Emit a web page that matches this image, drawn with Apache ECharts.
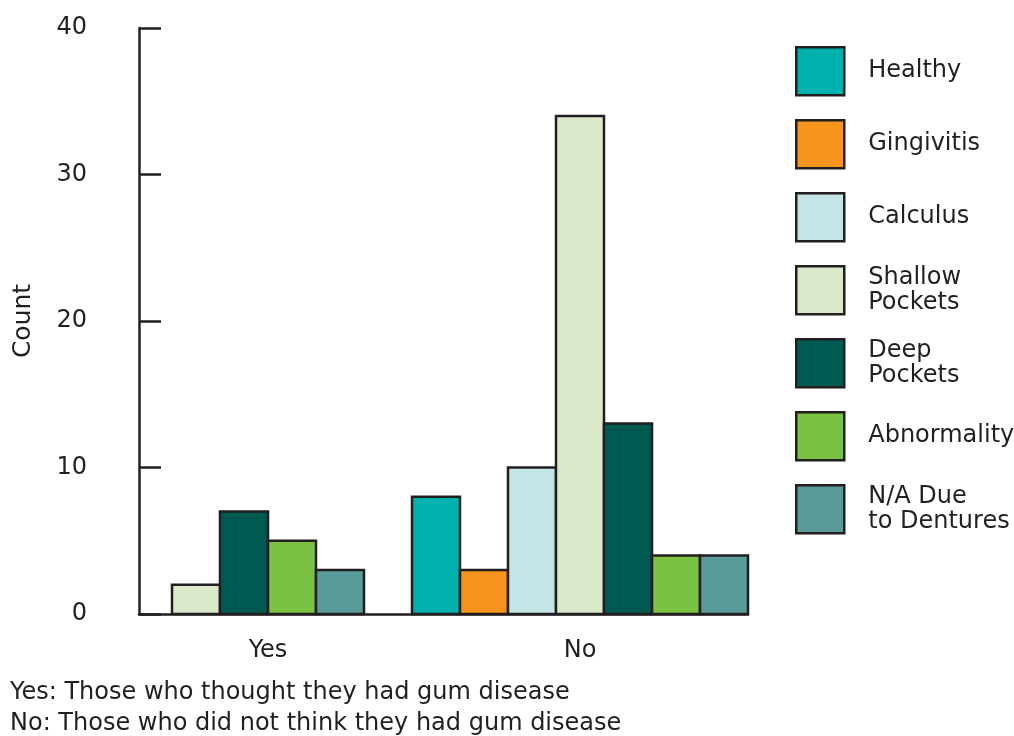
<!DOCTYPE html>
<html>
<head>
<meta charset="utf-8">
<script src="https://cdn.jsdelivr.net/npm/echarts@6/dist/echarts.min.js"></script>
<style>
html,body{margin:0;padding:0;background:#fff;}
#chart{width:1014px;height:736px;}
</style>
</head>
<body>
<div id="chart"></div>
<script>
const categories = ['Yes', 'No'];
const seriesNames = ['Healthy', 'Gingivitis', 'Calculus', 'Shallow\nPockets', 'Deep\nPockets', 'Abnormality', 'N/A Due\nto Dentures'];
const healthy = [0, 8];
const gingivitis = [0, 3];
const calculus = [0, 10];
const shallowPockets = [2, 34];
const deepPockets = [7, 13];
const abnormality = [5, 4];
const naDentures = [3, 4];
const yTicks = [0, 10, 20, 30, 40];
const footnotes = ['Yes: Those who thought they had gum disease', 'No: Those who did not think they had gum disease'];

const seriesValues = [healthy, gingivitis, calculus, shallowPockets, deepPockets, abnormality, naDentures];
const colors = ['#00b0ad', '#f7941e', '#c4e4e5', '#dbe9cb', '#005a52', '#7bc143', '#5a9b9a'];
const FONT = 'DejaVu Sans';
const TXT = '#231f20';
const BAR_FRAC = 48 / 312;

// nonzero series per category (bars with zero are omitted and the rest centred)
const nonzero = categories.map((c, ci) => seriesValues.map((v, si) => v[ci] ? si : -1).filter(i => i >= 0));

function renderItem(params, api) {
  const cat = api.value(0);
  const val = api.value(1);
  if (!val) return null;
  const s = params.seriesIndex;
  const list = nonzero[cat];
  const k = list.indexOf(s);
  const n = list.length;
  const base = api.coord([cat, 0]);
  const top = api.coord([cat, val]);
  const bw = api.size([1, 0])[0] * BAR_FRAC;
  const x0 = base[0] - n * bw / 2 + k * bw;
  return {
    type: 'rect',
    shape: { x: x0, y: top[1], width: bw, height: base[1] - top[1] },
    style: { fill: colors[s], stroke: TXT, lineWidth: 2.5 }
  };
}

const chart = echarts.init(document.getElementById('chart'), null, { renderer: 'canvas' });
const option = {
  animation: false,
  backgroundColor: '#fff',
  textStyle: { fontFamily: FONT, color: TXT },
  grid: [
    { left: 139, width: 609, top: 28, height: 586, containLabel: false },
    { left: 112, width: 624, top: 28, height: 586, containLabel: false }
  ],
  xAxis: [
    { gridIndex: 0, type: 'value', min: 0, max: 1, axisLine: { show: true, lineStyle: { color: TXT, width: 2.5 } }, axisTick: { show: false }, axisLabel: { show: false }, splitLine: { show: false } },
    { gridIndex: 1, type: 'category', data: categories, axisLine: { show: false }, axisTick: { show: false },
      axisLabel: { fontFamily: FONT, fontSize: 24, color: TXT, margin: 25 }, splitLine: { show: false } }
  ],
  yAxis: [
    { gridIndex: 0, type: 'value', min: 0, max: 40, interval: 10,
      name: 'Count', nameLocation: 'middle', nameRotate: 90, nameGap: 103,
      nameTextStyle: { fontFamily: FONT, fontSize: 25, color: TXT },
      axisLine: { show: true, lineStyle: { color: TXT, width: 2.5 } },
      axisTick: { show: true, inside: true, length: 22, lineStyle: { color: TXT, width: 2.5 } },
      axisLabel: { fontFamily: FONT, fontSize: 24, color: TXT, margin: 52, formatter: v => yTicks.includes(v) ? String(v) : '' },
      splitLine: { show: false } },
    { gridIndex: 1, type: 'value', min: 0, max: 40, show: false }
  ],
  legend: {
    orient: 'vertical', left: 795, top: 46, padding: 0,
    itemWidth: 48, itemHeight: 48, itemGap: 22.5, icon: 'rect',
    itemStyle: { borderColor: TXT, borderWidth: 2.5 },
    textStyle: { fontFamily: FONT, fontSize: 24, color: TXT, lineHeight: 25, padding: [0, 0, 0, 19] },
    data: seriesNames
  },
  title: {
    text: footnotes.join('\n'), left: 10, top: 677, padding: 0,
    textStyle: { fontFamily: FONT, fontSize: 24, fontWeight: 'normal', color: TXT, lineHeight: 31 }
  },
  series: seriesNames.map((name, si) => ({
    name: name, type: 'custom', xAxisIndex: 1, yAxisIndex: 1,
    renderItem: renderItem,
    itemStyle: { color: colors[si], borderColor: TXT, borderWidth: 2.5 },
    data: categories.map((c, ci) => [ci, seriesValues[si][ci]])
  }))
};
chart.setOption(option);
</script>
</body>
</html>
